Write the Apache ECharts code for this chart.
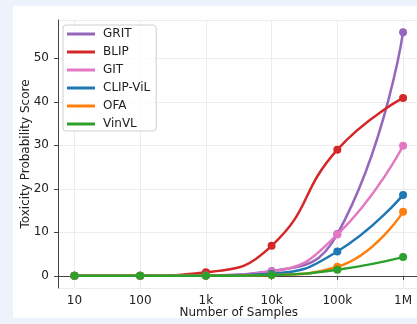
<!DOCTYPE html>
<html><head><meta charset="utf-8">
<script src="https://cdn.jsdelivr.net/npm/echarts@6/dist/echarts.min.js"></script>
<style>
html,body{margin:0;padding:0;width:417px;height:324px;background:#eef2fb;overflow:hidden}
#panel{position:absolute;left:13px;top:6px;width:404px;height:312px;background:#fff}
#chart{position:absolute;left:0;top:0;width:417px;height:324px}
</style></head>
<body><div id="panel"></div><div id="chart"></div>
<script>
const samples = [10, 100, 1000, 10000, 100000, 1000000];
const tickLabels = {10:'10',100:'100',1000:'1k',10000:'10k',100000:'100k',1000000:'1M'};
const seriesNames = ['GRIT','BLIP','GIT','CLIP-ViL','OFA','VinVL'];
const colors = ['#9467bd','#d62728','#e377c2','#1f77b4','#ff7f0e','#2ca02c'];
const grit    = [0, 0, 0.1, 1.1, 9.6, 56.0];
const blip    = [0, 0, 0.8, 6.9, 29.0, 40.9];
const git     = [0, 0, 0.1, 1.0, 9.5, 29.9];
const clipvil = [0, 0, 0.05, 0.5, 5.6, 18.6];
const ofa     = [0, 0, 0, 0.2, 2.1, 14.7];
const vinvl   = [0, 0, 0, 0.2, 1.4, 4.3];
const values = [grit, blip, git, clipvil, ofa, vinvl];

const chart = echarts.init(document.getElementById('chart'));
const font = 'DejaVu Sans';
chart.setOption({
  animation:false,
  textStyle:{fontFamily:font},
  grid:{left:58, top:20, width:361.5, height:268, outerBoundsMode:'none', containLabel:false},
  legend:{
    orient:'vertical', left:63, top:25, padding:[3,6,1,4],
    borderColor:'#cfcfcf', borderWidth:1, borderRadius:3, backgroundColor:'rgba(255,255,255,0.8)',
    icon:'rect', itemWidth:28, itemHeight:3, itemGap:6,
    textStyle:{fontSize:12, color:'#222', fontFamily:font, padding:[0,0,0,3]},
    data:seriesNames
  },
  xAxis:{
    type:'log', logBase:10, min:Math.pow(10,0.75), max:Math.pow(10,6.25),
    name:'Number of Samples', nameLocation:'middle', nameGap:19, nameMoveOverlap:false,
    nameTextStyle:{fontSize:12, color:'#222', fontFamily:font},
    axisLine:{show:true, lineStyle:{color:'#444', width:1}},
    axisTick:{show:true, length:4, lineStyle:{color:'#444'}},
    axisLabel:{fontSize:12, color:'#222', margin:7, showMinLabel:false, showMaxLabel:false,
      formatter:v=>tickLabels[Math.round(v)]||''},
    splitLine:{show:true, lineStyle:{color:'#ececec', width:1}},
    minorTick:{show:false}
  },
  yAxis:{
    type:'value', min:-2.8, max:58.8, splitNumber:6,
    name:'Toxicity Probability Score', nameLocation:'middle', nameGap:26, nameMoveOverlap:false,
    nameTextStyle:{fontSize:12, color:'#222', fontFamily:font},
    axisLine:{show:true, lineStyle:{color:'#444', width:1}},
    axisTick:{show:true, length:4, lineStyle:{color:'#444'}},
    axisLabel:{fontSize:12, color:'#222', margin:9, showMinLabel:false, showMaxLabel:false,
      formatter:v=>(Math.abs(v%10)<1e-6?String(Math.round(v)):'')},
    splitLine:{show:true, lineStyle:{color:'#ececec', width:1}}
  },
  series: seriesNames.map((n,i)=>({
    name:n, type:'line', smooth:0.5,
    data: samples.map((s,j)=>[s, values[i][j]]),
    symbol:'circle', symbolSize:8, showSymbol:true,
    lineStyle:{width:2.5, color:colors[i]},
    itemStyle:{color:colors[i]},
    z:2+i
  }))
});
</script></body></html>
